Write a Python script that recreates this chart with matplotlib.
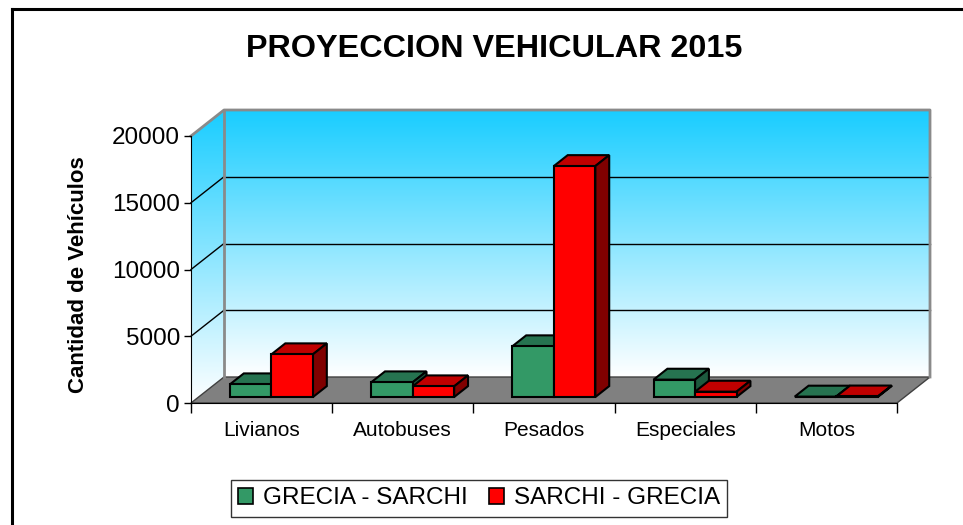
import numpy as np
import matplotlib
matplotlib.use("Agg")
import matplotlib.pyplot as plt
from matplotlib.patches import Polygon, Patch
from matplotlib.lines import Line2D

plt.rcParams['font.family'] = ['Liberation Sans', 'DejaVu Sans']

# datos
categorias = ["Livianos", "Autobuses", "Pesados", "Especiales", "Motos"]
grecia_sarchi = [950, 1100, 3800, 1300, 30]
sarchi_grecia = [3200, 800, 17300, 400, 40]
series = ["GRECIA - SARCHI", "SARCHI - GRECIA"]
y_ticks = [0, 5000, 10000, 15000, 20000]

W, H = 963, 525
fig = plt.figure(figsize=(W / 100, H / 100), dpi=100)

# caja frontal del grafico en pixeles (eje x en y=403, 20000 en y=136)
px_x0, px_x1 = 191, 897
px_y0, px_y1 = 403, 136
sx = (px_x1 - px_x0) / 5.0          # px por categoria
sy = (px_y0 - px_y1) / 20000.0      # px por vehiculo

# posicion del axes
L, R, T, B = 150, 945, 100, 410
ax = fig.add_axes([L / W, (H - B) / H, (R - L) / W, (B - T) / H])
xlim = ((L - px_x0) / sx - 0.5, (R - px_x0) / sx - 0.5)
ylim = ((px_y0 - B) / sy, (px_y0 - T) / sy)

# profundidad 3D
DX = 33 / sx
DY = 26 / sy
YMAX = 20000

# gradiente
top_c = np.array([25, 205, 255]) / 255.0
bot_c = np.array([1.0, 1.0, 1.0])
t = np.linspace(0, 1, 256)[:, None]
grad = (top_c * (1 - t) + bot_c * t)[:, None, :]

# pared trasera
ax.imshow(grad, extent=(-0.5 + DX, 4.5 + DX, DY, YMAX + DY), aspect='auto', zorder=0)
# pared izquierda
izq = Polygon([(-0.5, 0), (-0.5, YMAX), (-0.5 + DX, YMAX + DY), (-0.5 + DX, DY)],
              closed=True, facecolor='none', edgecolor='none')
ax.add_patch(izq)
im = ax.imshow(grad, extent=(-0.5, -0.5 + DX, 0, YMAX + DY), aspect='auto', zorder=0)
im.set_clip_path(izq)

# piso
piso = Polygon([(-0.5, 0), (4.5, 0), (4.5 + DX, DY), (-0.5 + DX, DY)], closed=True,
               facecolor='#808080', edgecolor='#404040', lw=1, zorder=1)
ax.add_patch(piso)

# lineas de division
for v in y_ticks[1:-1]:
    ax.plot([-0.5 + DX, 4.5 + DX], [v + DY, v + DY], color='black', lw=1, zorder=1)
    ax.plot([-0.5, -0.5 + DX], [v, v + DY], color='black', lw=1, zorder=1)

# bordes grises de las paredes
gris = '#8a8a8a'
ax.plot([-0.5 + DX, -0.5 + DX], [DY, YMAX + DY], color=gris, lw=2, zorder=1)
ax.plot([-0.5, -0.5 + DX, 4.5 + DX, 4.5 + DX], [YMAX, YMAX + DY, YMAX + DY, DY],
        color=gris, lw=2, zorder=1)

# barras 3D
f = 0.23
d = 0.42
bw = 0.294
x = np.arange(len(categorias))
colores = [('#339966', '#267350', '#1d5a3e'), ('#ff0000', '#c00000', '#800000')]
offs = [-bw / 2 + 0.016, bw / 2 + 0.016]
for k, vals in enumerate([grecia_sarchi, sarchi_grecia]):
    front, topc, sidec = colores[k]
    z = 3 + k
    xs = x + offs[k] + f * DX
    y0 = f * DY
    ax.bar(xs, vals, width=bw, bottom=y0, color=front, edgecolor='black', lw=1.5, zorder=z + 0.5)
    for xc, h in zip(xs, vals):
        xl, xr = xc - bw / 2, xc + bw / 2
        yt = y0 + h
        ax.add_patch(Polygon([(xl, yt), (xr, yt), (xr + d * DX, yt + d * DY), (xl + d * DX, yt + d * DY)],
                             closed=True, facecolor=topc, edgecolor='black', lw=1.5, zorder=z))
        ax.add_patch(Polygon([(xr, y0), (xr + d * DX, y0 + d * DY), (xr + d * DX, yt + d * DY), (xr, yt)],
                             closed=True, facecolor=sidec, edgecolor='black', lw=1.5, zorder=z))

ax.set_xlim(*xlim)
ax.set_ylim(*ylim)

# ejes
for s in ['top', 'right']:
    ax.spines[s].set_visible(False)
ax.spines['left'].set_position(('data', -0.5))
ax.spines['left'].set_bounds(0, YMAX)
ax.spines['bottom'].set_position(('data', 0))
ax.spines['bottom'].set_bounds(-0.5, 4.5)
ax.spines['left'].set_zorder(6)
ax.spines['bottom'].set_zorder(6)
ax.set_yticks(y_ticks)
ax.set_yticklabels([str(v) for v in y_ticks], fontsize=17.5)
ax.tick_params(axis='y', length=5, width=1, pad=3)
ax.set_xticks(np.arange(-0.5, 5.0, 1.0))
ax.set_xticklabels([])
ax.tick_params(axis='x', which='major', length=7, width=1)
ax.set_xticks(x, minor=True)
ax.set_xticklabels(categorias, minor=True, fontsize=15)
ax.tick_params(axis='x', which='minor', length=0, pad=13)

# textos
fig.text(494 / W, 1 - 49 / H, "PROYECCION VEHICULAR 2015", fontsize=23.3, fontweight='bold',
         ha='center', va='center')
fig.text(79 / W, 1 - 275 / H, "Cantidad de Vehículos", fontsize=16, fontweight='bold',
         rotation=90, ha='center', va='center')

# leyenda
handles = [Patch(facecolor='#339966', edgecolor='black', lw=1.2),
           Patch(facecolor='#ff0000', edgecolor='black', lw=1.2)]
leg = fig.legend(handles, series, loc='center', bbox_to_anchor=(479 / W, 1 - 498.5 / H),
                 ncol=2, fontsize=17.5, frameon=True, fancybox=False, edgecolor='black',
                 handlelength=0.6, handleheight=0.6, handletextpad=0.4, columnspacing=0.9,
                 borderpad=0.3)
leg.get_frame().set_linewidth(1)

# marco exterior
fig.add_artist(Line2D([12 / W, 12 / W], [0, 1 - 9 / H], color='black', lw=2.2))
fig.add_artist(Line2D([12 / W, 1], [1 - 9 / H, 1 - 9 / H], color='black', lw=2.2))

fig.savefig("out.png", dpi=100)
